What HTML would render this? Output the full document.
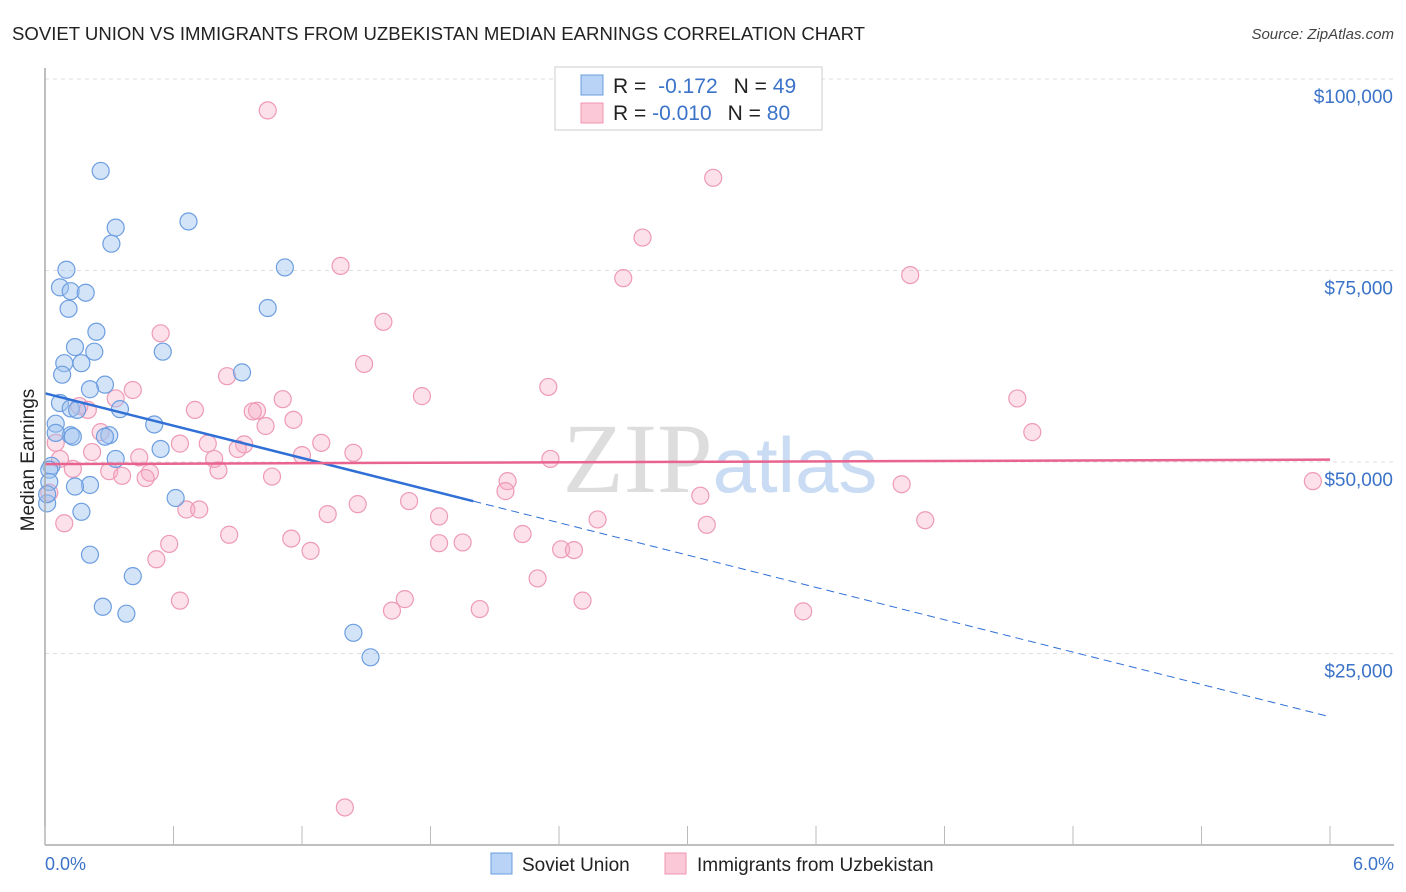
<!DOCTYPE html>
<html><head><meta charset="utf-8"><style>
body{margin:0;background:#fff;font-family:"Liberation Sans",sans-serif;}
svg{display:block}
</style></head><body>
<svg width="1406" height="892" xmlns="http://www.w3.org/2000/svg">
<text x="12" y="40" font-size="18" fill="#222" textLength="853" lengthAdjust="spacingAndGlyphs">SOVIET UNION VS IMMIGRANTS FROM UZBEKISTAN MEDIAN EARNINGS CORRELATION CHART</text>
<text x="1394" y="39" font-size="15" fill="#444" font-style="italic" text-anchor="end">Source: ZipAtlas.com</text>
<g id="grid"></g>
<text x="720" y="492" font-size="100" fill="#ddd" text-anchor="middle" font-family="Liberation Serif">ZIP<tspan fill="#c9dcf3" font-family="Liberation Sans" font-size="78">atlas</tspan></text>
<text x="34" y="460" font-size="19" fill="#222" text-anchor="middle" transform="rotate(-90 34 460)">Median Earnings</text>
<g id="pts"></g>
<g id="lines"></g>
<line x1="45" y1="845" x2="1394" y2="845" stroke="#aaa" stroke-width="1.5"/>
<line x1="45" y1="68" x2="45" y2="845" stroke="#aaa" stroke-width="1.5"/>
<g id="xt"></g>
<text x="45" y="870" font-size="18" fill="#3b73c8">0.0%</text>
<text x="1394" y="870" font-size="18" fill="#3b73c8" text-anchor="end">6.0%</text>
<g>
<rect x="555" y="67" width="267" height="63" fill="#fff" stroke="#ccc"/>
<rect x="581" y="75" width="22" height="20" fill="#b8d3f5" stroke="#6a9de0"/>
<rect x="581" y="103" width="22" height="20" fill="#fbc8d8" stroke="#ef94b0"/>
<text x="613" y="93" font-size="21" fill="#222">R = <tspan fill="#3b73c8" dx="6">-0.172</tspan><tspan dx="16" fill="#222">N = </tspan><tspan fill="#3b73c8">49</tspan></text>
<text x="613" y="120" font-size="21" fill="#222">R = <tspan fill="#3b73c8">-0.010</tspan><tspan dx="16" fill="#222">N = </tspan><tspan fill="#3b73c8">80</tspan></text>
</g>
<g>
<rect x="491" y="853" width="21" height="21" fill="#b8d3f5" stroke="#6a9de0"/>
<text x="522" y="871" font-size="19" fill="#222">Soviet Union</text>
<rect x="665" y="853" width="21" height="21" fill="#fbc8d8" stroke="#ef94b0"/>
<text x="697" y="871" font-size="19" fill="#222">Immigrants from Uzbekistan</text>
</g>
</svg>
<script>
const yTicks=[25000,50000,75000,100000];
const yTickLabels=["$25,000","$50,000","$75,000","$100,000"];
const xTicks=[0,0.6,1.2,1.8,2.4,3.0,3.6,4.2,4.8,5.4,6.0];
const blueX=[0.26,0.33,0.31,0.67,1.12,0.10,0.07,0.12,0.19,0.11,1.04,0.24,0.14,0.23,0.55,0.09,0.17,0.08,0.92,0.28,0.21,0.07,0.12,0.35,0.15,0.05,0.51,0.12,0.30,0.13,0.28,0.05,0.54,0.33,0.03,0.02,0.02,0.21,0.14,0.61,0.01,0.17,0.21,0.41,0.27,0.38,1.44,1.52,0.01];
const blueY=[88000,80600,78500,81400,75400,75100,72800,72300,72100,70000,70100,67000,65000,64400,64400,62900,62900,61400,61700,60100,59500,57700,57000,56900,56800,55000,54900,53500,53500,53300,53300,53800,51700,50400,49500,49000,47400,47000,46800,45300,44600,43500,37900,35100,31100,30200,27700,24500,45800];
const pinkX=[1.04,3.12,2.79,4.04,2.70,1.38,1.58,0.54,1.49,0.85,2.35,0.41,1.76,1.11,0.33,0.16,0.70,0.99,0.97,1.16,1.03,0.20,4.54,4.61,0.26,1.29,0.63,0.76,1.44,0.93,0.90,1.20,0.22,0.44,2.36,0.79,0.07,0.13,0.81,0.30,0.49,0.36,1.06,0.47,2.16,2.15,3.06,4.00,5.92,1.70,1.46,0.66,0.72,1.32,1.84,2.58,3.09,4.11,2.23,0.86,1.15,0.58,1.84,1.95,1.24,2.41,2.47,0.52,2.30,1.68,0.63,2.51,1.62,2.03,3.54,1.40,0.02,0.05,0.09];
const pinkY=[95900,87100,79300,74400,74000,75600,68300,66800,62800,61200,59800,59400,58600,58200,58300,57300,56800,56700,56600,55500,54700,56800,58300,53900,53900,52500,52400,52400,51200,52300,51700,50900,51300,50600,50400,50400,50400,49100,48900,48800,48600,48200,48100,47900,47500,46200,45600,47100,47500,44900,44500,43800,43800,43200,42900,42500,41800,42400,40600,40500,40000,39300,39400,39500,38400,38600,38500,37300,34800,32100,31900,31900,30600,30800,30500,4900,46000,52500,42000];
const W0=45,W1=1330,H0=845;
function sx(p){return W0+p/6*(W1-W0);}
function sy(v){return H0-v/25000*191.5;}
const NS="http://www.w3.org/2000/svg";
function mk(t,a,parent){const e=document.createElementNS(NS,t);for(const k in a)e.setAttribute(k,a[k]);parent.appendChild(e);return e;}
const grid=document.getElementById('grid');
yTicks.forEach((v,i)=>{
 const l=mk('line',{x1:45,x2:1394,y1:sy(v),y2:sy(v),stroke:'#ddd','stroke-dasharray':'4,4'},grid);
 
 
 const t=mk('text',{x:1393,y:sy(v)+24,'font-size':19,fill:'#3b73c8','text-anchor':'end'},grid);
 t.textContent=yTickLabels[i];
 
 
});
const xt=document.getElementById('xt');
xTicks.forEach(p=>{
 const l=mk('line',{x1:sx(p),x2:sx(p),y1:826,y2:845,stroke:'#bbb'},xt);
 
 
});
const pts=document.getElementById('pts');
pinkX.forEach((p,i)=>{
 const c=mk('circle',{cx:sx(p),cy:sy(pinkY[i]),r:8.5,fill:'rgba(247,170,195,0.35)',stroke:'#ee9ab5','stroke-width':1.2},pts);
 
 
});
blueX.forEach((p,i)=>{
 const c=mk('circle',{cx:sx(p),cy:sy(blueY[i]),r:8.5,fill:'rgba(160,195,240,0.45)',stroke:'#6d9ee0','stroke-width':1.2},pts);
 
 
});
const lines=document.getElementById('lines');
function fit(xs,ys){const n=xs.length;let mx=0,my=0;for(let i=0;i<n;i++){mx+=xs[i];my+=ys[i];}mx/=n;my/=n;let a=0,b=0;for(let i=0;i<n;i++){a+=(xs[i]-mx)*(ys[i]-my);b+=(xs[i]-mx)**2;}const s=a/b;return [s,my-s*mx];}
const bf=fit(blueX,blueY), pf=fit(pinkX,pinkY);
let l=mk('line',{x1:sx(0),y1:sy(bf[1]),x2:sx(2.0),y2:sy(bf[1]+bf[0]*2.0),stroke:'#2f6fd6','stroke-width':2.5},lines);


l=mk('line',{x1:sx(2.0),y1:sy(bf[1]+bf[0]*2.0),x2:sx(6),y2:sy(bf[1]+bf[0]*6),stroke:'#2f6fd6','stroke-width':1,'stroke-dasharray':'8,5'},lines);


l=mk('line',{x1:sx(0),y1:sy(pf[1]),x2:sx(6),y2:sy(pf[1]+pf[0]*6),stroke:'#e8648f','stroke-width':2.5},lines);


</script>
</body></html>
